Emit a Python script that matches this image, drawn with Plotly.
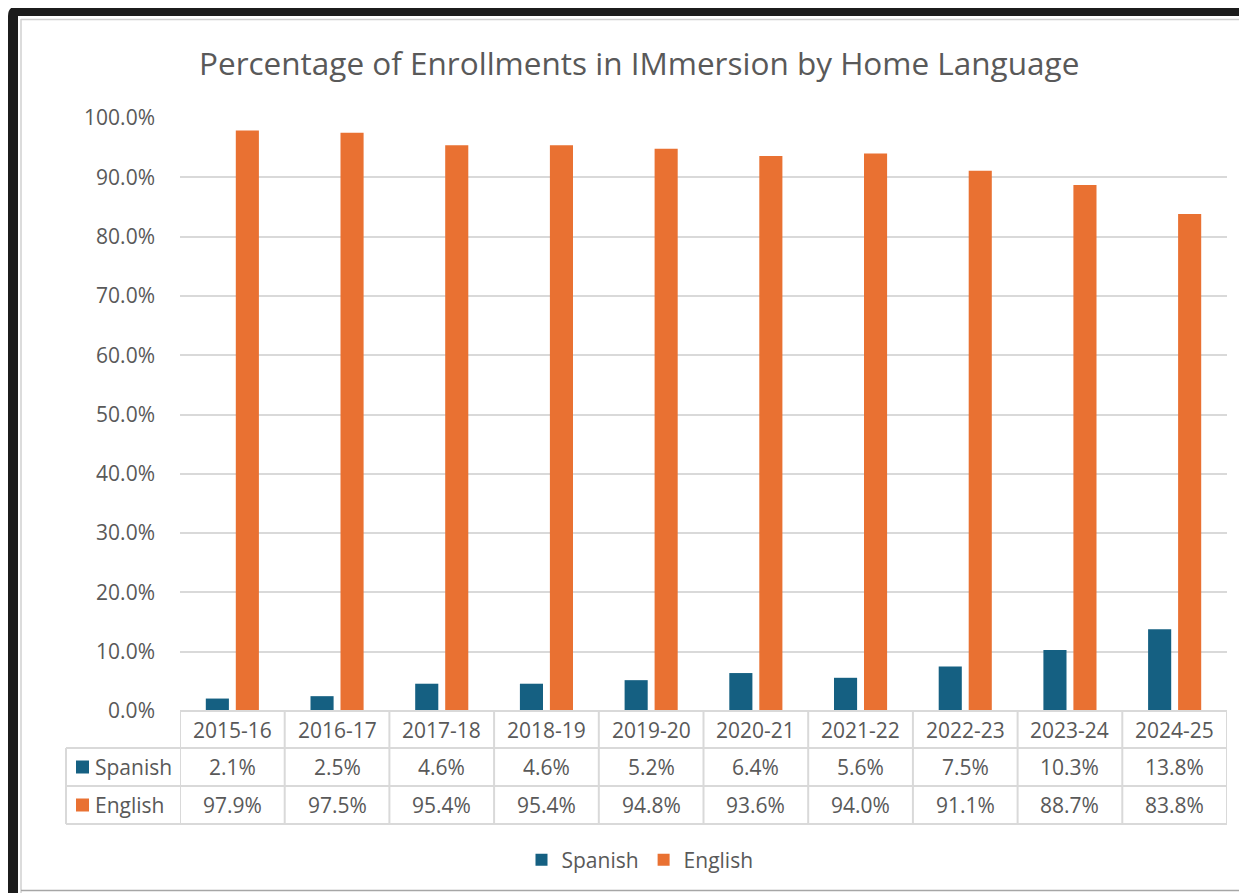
import plotly.graph_objects as go

# ---- data ----
years = ["2015-16", "2016-17", "2017-18", "2018-19", "2019-20",
         "2020-21", "2021-22", "2022-23", "2023-24", "2024-25"]
spanish = [2.1, 2.5, 4.6, 4.6, 5.2, 6.4, 5.6, 7.5, 10.3, 13.8]
english = [97.9, 97.5, 95.4, 95.4, 94.8, 93.6, 94.0, 91.1, 88.7, 83.8]
series_names = ["Spanish", "English"]
series_colors = ["#156082", "#E97132"]
title_text = "Percentage of Enrollments in IMmersion by Home Language"

# ---- geometry (pixels, in screen coordinates) ----
OFF = 8                      # page body margin of the browser
SW, SH = 1247, 893           # screen size
W, H = SW - OFF, SH - OFF    # figure size
PL, PR, PT, PB = 180, 1227, 118, 711   # plot area edges (screen px)
FONT = "Open Sans"
TXT = "#595959"
GRID = "#d9d9d9"
FS = 21


def fx(px):
    return (px - PL) / (PR - PL)


def fy(py):
    return (PB - py) / (PB - PT)


fig = go.Figure()
for name, vals, col in zip(series_names, [spanish, english], series_colors):
    fig.add_trace(go.Bar(
        x=years, y=[v / 100 for v in vals], name=name,
        marker=dict(color=col, line=dict(width=0)),
    ))

shapes = []
annotations = []

# ---- data table ----
row_tops = [PB, 748, 786, 824]
n = len(years)
shapes.append(dict(type="line", xref="paper", yref="paper", x0=fx(PL), x1=fx(PR),
                   y0=fy(row_tops[0]), y1=fy(row_tops[0]), line=dict(color=GRID, width=2)))
for r in row_tops[1:]:
    shapes.append(dict(type="line", xref="paper", yref="paper", x0=fx(66), x1=fx(PR),
                       y0=fy(r), y1=fy(r), line=dict(color=GRID, width=2)))
shapes.append(dict(type="line", xref="paper", yref="paper", x0=fx(66), x1=fx(66),
                   y0=fy(row_tops[1]), y1=fy(row_tops[3]), line=dict(color=GRID, width=2)))
for k in range(n + 1):
    shapes.append(dict(type="line", xref="x", yref="paper", x0=k - 0.5, x1=k - 0.5,
                       y0=fy(row_tops[0]), y1=fy(row_tops[3]), line=dict(color=GRID, width=2)))

for i, yr in enumerate(years):
    annotations.append(dict(x=i, xref="x", y=fy((row_tops[0] + row_tops[1]) / 2), yref="paper",
                            text=yr, showarrow=False, xanchor="center", yanchor="middle",
                            font=dict(family=FONT, size=FS, color=TXT)))
for r, (name, vals, col) in enumerate(zip(series_names, [spanish, english], series_colors)):
    yc = (row_tops[r + 1] + row_tops[r + 2]) / 2
    for i, v in enumerate(vals):
        annotations.append(dict(x=i, xref="x", y=fy(yc), yref="paper",
                                text=f"{v:.1f}%", showarrow=False, xanchor="center",
                                yanchor="middle", font=dict(family=FONT, size=FS, color=TXT)))
    shapes.append(dict(type="rect", xref="paper", yref="paper", x0=fx(76), x1=fx(89),
                       y0=fy(yc - 6.5), y1=fy(yc + 6.5), fillcolor=col, line=dict(width=0)))
    annotations.append(dict(x=fx(93), xref="paper", y=fy(yc), yref="paper", text=name,
                            showarrow=False, xanchor="left", yanchor="middle",
                            font=dict(family=FONT, size=FS, color=TXT)))

annotations.append(dict(x=fx(639), xref="paper", y=fy(62), yref="paper", text=title_text,
                        showarrow=False, xanchor="center", yanchor="middle",
                        font=dict(family=FONT, size=31.5, color=TXT)))

# ---- window frame (screenshot border) ----
path = (f"M {fx(8)},{fy(SH)} L {fx(8)},{fy(16)} Q {fx(8)},{fy(6)} {fx(18)},{fy(6)} "
        f"L {fx(SW)},{fy(6)} L {fx(SW)},{fy(16)} L {fx(18)},{fy(16)} L {fx(18)},{fy(SH)} Z")
shapes.append(dict(type="path", xref="paper", yref="paper", path=path,
                   fillcolor="#1c1c1c", line=dict(width=0)))
shapes.append(dict(type="line", xref="paper", yref="paper", x0=fx(21), x1=fx(21),
                   y0=fy(19), y1=fy(SH), line=dict(color="#d0d0d0", width=1.5)))
shapes.append(dict(type="line", xref="paper", yref="paper", x0=fx(21), x1=fx(SW),
                   y0=fy(19.5), y1=fy(19.5), line=dict(color="#d0d0d0", width=1.5)))
shapes.append(dict(type="line", xref="paper", yref="paper", x0=fx(21), x1=fx(SW),
                   y0=fy(890.5), y1=fy(890.5), line=dict(color="#a6a6a6", width=1.5)))

fig.update_layout(
    width=W, height=H,
    margin=dict(l=PL - OFF, r=SW - PR, t=PT - OFF, b=SH - PB, pad=0),
    paper_bgcolor="white", plot_bgcolor="white",
    barmode="group", bargap=0.427, bargroupgap=0.23,
    font=dict(family=FONT, color=TXT),
    showlegend=True,
    legend=dict(orientation="h", x=fx(640), xanchor="center", y=fy(860), yanchor="middle",
                font=dict(family=FONT, size=FS, color=TXT), itemwidth=30,
                bgcolor="rgba(0,0,0,0)", traceorder="normal"),
    shapes=shapes, annotations=annotations,
)
fig.update_xaxes(showticklabels=False, showgrid=False, zeroline=False, showline=False,
                 ticks="", range=[-0.5, n - 0.5])
fig.update_yaxes(range=[0, 1], dtick=0.1, tick0=0, tickformat=".1%", showgrid=True,
                 gridcolor=GRID, gridwidth=1.5, zeroline=False, showline=False, ticks="",
                 ticklabelstandoff=24, tickfont=dict(family=FONT, size=FS, color=TXT))

fig.write_html("out.html")
